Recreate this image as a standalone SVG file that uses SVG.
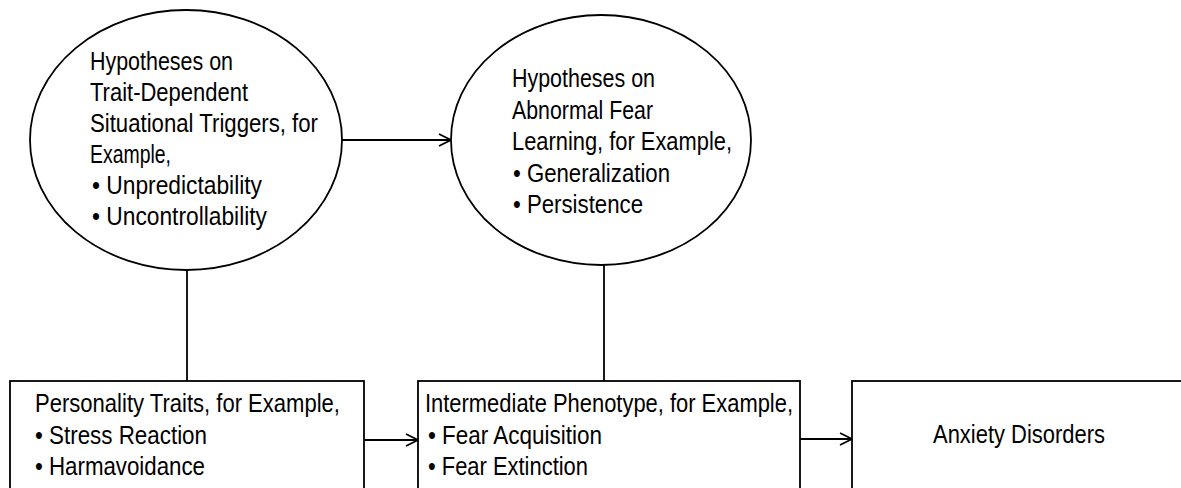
<svg xmlns="http://www.w3.org/2000/svg" width="1181" height="488" viewBox="0 0 1181 488">
<style>
.shape{fill:#fff;stroke:#000;stroke-width:1.8}
.conn{fill:none;stroke:#000;stroke-width:1.8}
text{font-family:"Liberation Sans",Arial,sans-serif;font-size:25.5px;fill:#000}
</style>
<defs>
<marker id="arr" markerUnits="userSpaceOnUse" markerWidth="16" markerHeight="16" refX="13" refY="7" orient="auto">
<path d="M1,1 L13,7 L1,13" fill="none" stroke="#000" stroke-width="1.8"/>
</marker>
</defs>
<rect width="1181" height="488" fill="#fff"/>
<g id="connectors">
<line class="conn" x1="342" y1="140" x2="451" y2="140" marker-end="url(#arr)"/>
<line class="conn" x1="187" y1="270" x2="187" y2="381"/>
<line class="conn" x1="604" y1="265" x2="604" y2="381"/>
<line class="conn" x1="364" y1="440" x2="418" y2="440" marker-end="url(#arr)"/>
<line class="conn" x1="800" y1="439" x2="852" y2="439" marker-end="url(#arr)"/>
</g>
<g id="node-triggers">
<ellipse class="shape" cx="186" cy="140" rx="156" ry="130"/>
<text x="90" y="69.5" textLength="143" lengthAdjust="spacingAndGlyphs">Hypotheses on</text>
<text x="90" y="100.5" textLength="158" lengthAdjust="spacingAndGlyphs">Trait-Dependent</text>
<text x="90" y="131.5" textLength="228" lengthAdjust="spacingAndGlyphs">Situational Triggers, for</text>
<text x="90" y="162.5" textLength="81" lengthAdjust="spacingAndGlyphs">Example,</text>
<text x="92" y="193.5" textLength="170" lengthAdjust="spacingAndGlyphs">• Unpredictability</text>
<text x="92" y="224.5" textLength="175" lengthAdjust="spacingAndGlyphs">• Uncontrollability</text>
</g>
<g id="node-fear-learning">
<ellipse class="shape" cx="601" cy="140" rx="150" ry="125"/>
<text x="512" y="87" textLength="143" lengthAdjust="spacingAndGlyphs">Hypotheses on</text>
<text x="512" y="118.5" textLength="141" lengthAdjust="spacingAndGlyphs">Abnormal Fear</text>
<text x="512" y="150" textLength="220" lengthAdjust="spacingAndGlyphs">Learning, for Example,</text>
<text x="513" y="181.5" textLength="157" lengthAdjust="spacingAndGlyphs">• Generalization</text>
<text x="513" y="213" textLength="130" lengthAdjust="spacingAndGlyphs">• Persistence</text>
</g>
<g id="node-personality">
<rect class="shape" x="10" y="381" width="354" height="130"/>
<text x="35" y="412" textLength="305" lengthAdjust="spacingAndGlyphs">Personality Traits, for Example,</text>
<text x="35" y="443.5" textLength="172" lengthAdjust="spacingAndGlyphs">• Stress Reaction</text>
<text x="35" y="475" textLength="170" lengthAdjust="spacingAndGlyphs">• Harmavoidance</text>
</g>
<g id="node-phenotype">
<rect class="shape" x="418" y="381" width="382" height="130"/>
<text x="425" y="412" textLength="368" lengthAdjust="spacingAndGlyphs">Intermediate Phenotype, for Example,</text>
<text x="428" y="443.5" textLength="174" lengthAdjust="spacingAndGlyphs">• Fear Acquisition</text>
<text x="428" y="475" textLength="160" lengthAdjust="spacingAndGlyphs">• Fear Extinction</text>
</g>
<g id="node-anxiety">
<rect class="shape" x="852" y="381" width="340" height="130"/>
<text x="933" y="443" textLength="172" lengthAdjust="spacingAndGlyphs">Anxiety Disorders</text>
</g>
</svg>
